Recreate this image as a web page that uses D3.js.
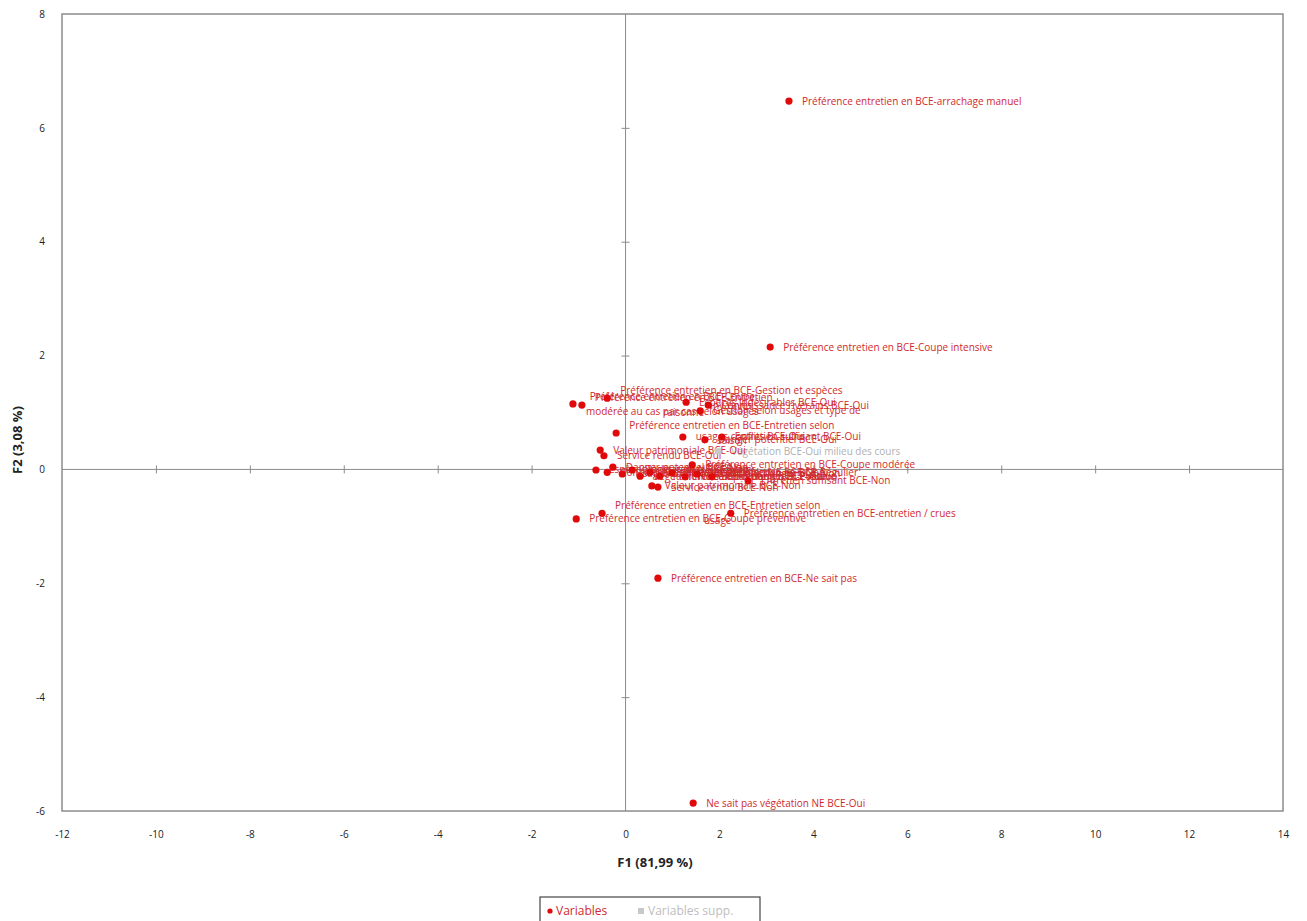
<!DOCTYPE html>
<html>
<head>
<meta charset="utf-8">
<script src="https://cdn.jsdelivr.net/npm/d3@7"></script>
<style>
  body { margin: 0; background: #fff; }
  text { font-family: "Open Sans", "Liberation Sans", sans-serif; }
</style>
</head>
<body>
<div id="chart"></div>
<script>
var labels = [
  "Préférence entretien en BCE-arrachage manuel",
  "Préférence entretien en BCE-Coupe intensive",
  "Préférence entretien en BCE-Ne sait pas",
  "Ne sait pas végétation NE BCE-Oui",
  "Préférence entretien en BCE-Coupe préventive",
  "Préférence entretien en BCE-Entretien selon|usage",
  "Préférence entretien en BCE-entretien / crues",
  "Préférence entretien en BCE-Entretien selon|saison",
  "Préférence entretien en BCE-Coupe|modérée au cas par cas selon usages",
  "Préférence entretien en BCE-Entretien|raisonné",
  "Espèces indésirables BCE-Oui",
  "Préférence entretien en BCE-Gestion et espèces|invasives",
  "Gestion selon usages et type de",
  "Connaissance riverains BCE-Oui",
  "usages conflits BCE-Oui",
  "Danger potentiel BCE-Oui",
  "Entretien suffisant BCE-Oui",
  "Végétation BCE-Oui milieu des cours",
  "Valeur patrimoniale BCE-Oui",
  "Service rendu BCE-Oui",
  "Espèces indésirables BCE-Non",
  "Connaissance riverains BCE-Non",
  "Danger potentiel BCE-Non",
  "Usages conflits BCE-Non",
  "Végétation NE BCE-Oui",
  "Végétation NE BCE-Non",
  "Ne sait pas végétation NE BCE-Non",
  "Préférence entretien en BCE-Aucun",
  "Préférence entretien en BCE-Régulier",
  "Ne sait pas danger BCE-Oui",
  "Ne sait pas danger BCE-Non",
  "Perception BCE-Positive",
  "Préférence entretien en BCE-Coupe modérée",
  "Entretien suffisant BCE-Non",
  "Valeur patrimoniale BCE-Non",
  "Service rendu BCE-Non"
];
var f1 = [3.48, 3.08, 0.69, 1.44, -1.05, -0.50, 2.24, -0.20, -1.12, -0.93,
          1.29, -0.39, 1.59, 1.76, 1.22, 1.69, 2.05, 1.97, -0.54, -0.46,
          -0.63, -0.39, -0.27, -0.07, 0.14, 0.31, 0.52, 0.73, 0.99, 1.27,
          1.52, 1.84, 1.42, 2.61, 0.56, 0.69];
var f2 = [6.47, 2.15, -1.91, -5.86, -0.87, -0.77, -0.77, 0.64, 1.15, 1.13,
          1.18, 1.25, 1.03, 1.13, 0.57, 0.52, 0.57, 0.32, 0.34, 0.24,
          -0.01, -0.05, 0.04, -0.08, -0.01, -0.12, -0.05, -0.12, -0.06, -0.13,
          -0.08, -0.13, 0.08, -0.20, -0.29, -0.31];
// 0 = active variable, 1 = supplementary
var supp = [0,0,0,0,0,0,0,0,0,0, 0,0,0,0,0,0,0,1,0,0,
            0,0,0,0,0,0,0,0,0,0, 0,0,0,0,0,0];

var xTicks = [-12, -10, -8, -6, -4, -2, 0, 2, 4, 6, 8, 10, 12, 14];
var yTicks = [-6, -4, -2, 0, 2, 4, 6, 8];
var xTitle = "F1 (81,99 %)";
var yTitle = "F2 (3,08 %)";

var svgWidth = 1307, svgHeight = 921;
var plot = { left: 62, right: 1283, top: 14, bottom: 811 };

var svg = d3.select("#chart").append("svg")
  .attr("width", svgWidth)
  .attr("height", svgHeight);

var x = d3.scaleLinear().domain([-12, 14]).range([plot.left, plot.right]);
var y = d3.scaleLinear().domain([-6, 8]).range([plot.bottom, plot.top]);

// frame
svg.append("rect")
  .attr("x", plot.left).attr("y", plot.top)
  .attr("width", plot.right - plot.left)
  .attr("height", plot.bottom - plot.top)
  .attr("fill", "none")
  .attr("stroke", "#8c8c8c")
  .attr("stroke-width", 1.5);

// outer tick labels (plain hyphen minus, like the original)
var fmt = d => String(d);
var xAxis = svg.append("g")
  .attr("transform", `translate(0, ${plot.bottom})`)
  .call(d3.axisBottom(x).tickValues(xTicks).tickSize(0).tickPadding(20).tickFormat(fmt));
var yAxis = svg.append("g")
  .attr("transform", `translate(${plot.left}, 0)`)
  .call(d3.axisLeft(y).tickValues(yTicks).tickSize(0).tickPadding(17).tickFormat(fmt));
[xAxis, yAxis].forEach(function(g) {
  g.select(".domain").remove();
  g.selectAll("text")
    .attr("font-family", "Open Sans, sans-serif")
    .attr("font-size", "10px")
    .attr("fill", "#222");
});

// zero lines with crossing ticks
svg.append("line")
  .attr("x1", plot.left).attr("x2", plot.right)
  .attr("y1", y(0)).attr("y2", y(0))
  .attr("stroke", "#8c8c8c");
svg.append("line")
  .attr("x1", x(0)).attr("x2", x(0))
  .attr("y1", plot.top).attr("y2", plot.bottom)
  .attr("stroke", "#8c8c8c");
var zx = svg.append("g")
  .attr("transform", `translate(0, ${y(0) - 4})`)
  .call(d3.axisBottom(x).tickValues(xTicks.slice(1, -1)).tickSize(8).tickFormat(""));
var zy = svg.append("g")
  .attr("transform", `translate(${x(0) + 4}, 0)`)
  .call(d3.axisLeft(y).tickValues(yTicks.slice(1, -1)).tickSize(8).tickFormat(""));
[zx, zy].forEach(function(g) {
  g.select(".domain").remove();
  g.selectAll("line").attr("stroke", "#8c8c8c");
});

// axis titles
svg.append("text")
  .attr("x", 655).attr("y", 867)
  .attr("text-anchor", "middle")
  .attr("font-size", "13px")
  .attr("font-weight", "bold")
  .attr("fill", "#222")
  .text(xTitle);
svg.append("text")
  .attr("transform", "translate(22, 440) rotate(-90)")
  .attr("text-anchor", "middle")
  .attr("font-size", "13px")
  .attr("font-weight", "bold")
  .attr("fill", "#222")
  .text(yTitle);

var data = labels.map(function(l, i) {
  return { label: l, f1: f1[i], f2: f2[i], supp: supp[i] };
});

// labels
var lab = svg.append("g").selectAll("text")
  .data(data).enter()
  .append("text")
  .attr("font-size", "10px")
  .attr("fill", d => d.supp ? "#b0b0b0" : "#d02a2c");

lab.each(function(d) {
  var t = d3.select(this);
  var lines = d.label.split("|");
  var n = lines.length;
  var spans = lines.map(function(line, k) {
    return t.append("tspan")
      .attr("y", y(d.f2) + (k - (n - 1) / 2) * 15)
      .attr("dy", "0.35em")
      .text(line);
  });
  var widths = spans.map(s => s.node().getComputedTextLength());
  var maxW = d3.max(widths);
  spans.forEach(function(s, k) {
    s.attr("x", x(d.f1) + 13 + (maxW - widths[k]) / 2);
  });
});

// points
var pts = svg.append("g");
pts.selectAll("circle")
  .data(data.filter(d => !d.supp)).enter()
  .append("circle")
  .attr("cx", d => x(d.f1))
  .attr("cy", d => y(d.f2))
  .attr("r", 3.6)
  .attr("fill", "#e00a0a");
pts.selectAll("rect")
  .data(data.filter(d => d.supp)).enter()
  .append("rect")
  .attr("x", d => x(d.f1) - 3)
  .attr("y", d => y(d.f2) - 3)
  .attr("width", 6).attr("height", 6)
  .attr("fill", "#c8c8c8");

// legend
var leg = svg.append("g").attr("transform", "translate(540, 897)");
leg.append("rect")
  .attr("width", 220).attr("height", 30)
  .attr("fill", "#fff")
  .attr("stroke", "#444")
  .attr("stroke-width", 1.2);
leg.append("circle").attr("cx", 10).attr("cy", 14).attr("r", 2.6).attr("fill", "#e00a0a");
leg.append("text").attr("x", 16).attr("y", 14).attr("dy", "0.35em")
  .attr("font-size", "12px").attr("fill", "#d02a2c").text("Variables");
leg.append("rect").attr("x", 98).attr("y", 11).attr("width", 6).attr("height", 6).attr("fill", "#c8c8c8");
leg.append("text").attr("x", 108).attr("y", 14).attr("dy", "0.35em")
  .attr("font-size", "12px").attr("fill", "#bdbdbd").text("Variables supp.");
</script>
</body>
</html>
